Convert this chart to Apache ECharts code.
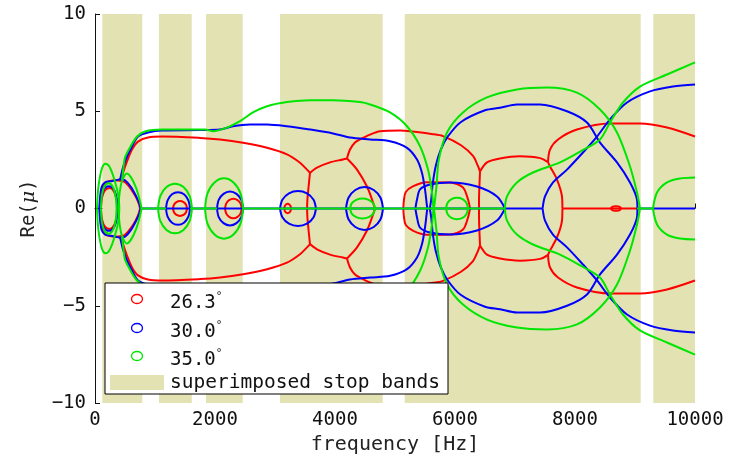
<!DOCTYPE html>
<html>
<head>
<meta charset="utf-8">
<script src="https://cdn.jsdelivr.net/npm/echarts@6/dist/echarts.min.js"></script>
<style>
  html, body { margin: 0; padding: 0; background: #fff; }
  #chart { width: 731px; height: 462px; }
</style>
</head>
<body>
<div id="chart"></div>
<script>
// Axis ticks
const xTicks = [0, 2000, 4000, 6000, 8000, 10000];
const yTicks = [-10, -5, 0, 5, 10];

// Stop bands common to all incidence angles [from Hz, to Hz]
const stopBands = [[122, 788], [1067, 1612], [1850, 2462], [3083, 4795], [5162, 9095], [9305, 10000]];

// Incidence angles (degrees)
const angles = ['26.3', '30.0', '35.0'];

// Root loci, upper half only: [frequency Hz, Re(mu)]; Re(mu) is symmetric about zero.
// --- 26.3 deg ---
const redLow = [[83,0],[95,0.5],[115,1.0],[160,1.3],[250,1.42],[350,1.45],[420,1.43],[500,1.35],[600,1.0],[680,0.6],[730,0.25],[750,0]];
const redLowInner = [[100,0],[120,0.6],[170,0.95],[250,1.05],[320,0.85],[360,0.45],[375,0]];
const redMain = [[420,1.43],[450,1.6],[470,1.85],[533,2.42],[617,3.03],[717,3.44],[883,3.65],[1117,3.70],[1750,3.63],[2083,3.55],[2467,3.38],[2867,3.12],[3200,2.78],[3417,2.35],[3533,2.0],[3583,1.83]];
const redDrop1 = [[3583,1.83],[3560,1.13],[3540,0.46],[3535,0]];
const redBridge1 = [[3583,1.83],[3700,2.1],[3917,2.37],[4133,2.52],[4200,2.57]];
const redDrop2 = [[4200,2.57],[4367,2.0],[4533,1.13],[4617,0.46],[4667,0]];
const redArch = [[4200,2.57],[4250,3.03],[4333,3.39],[4417,3.55],[4583,3.8],[4750,3.97],[5083,4.01],[5633,3.82],[5800,3.72],[6100,3.25],[6300,2.7],[6380,2.2],[6417,1.9]];
const redDrop3 = [[6417,1.9],[6405,1.0],[6400,0.4],[6400,0]];
const redBridge2 = [[6417,1.9],[6533,2.37],[6750,2.57],[7083,2.68],[7417,2.59],[7550,2.38]];
const redOuter = [[7550,2.38],[7583,3.03],[7717,3.55],[8033,4.06],[8583,4.37],[9083,4.37],[9533,4.16],[10000,3.70]];
const redDrop4 = [[7550,2.38],[7583,2.16],[7700,1.49],[7783,0.62],[7790,0]];
const redLoop1400 = [[1300,0],[1316,0.19],[1358,0.33],[1417,0.38],[1475,0.33],[1518,0.19],[1533,0]];
const redLoop2300 = [[2167,0],[2186,0.25],[2236,0.43],[2306,0.5],[2376,0.43],[2426,0.25],[2445,0]];
const redLoop3200 = [[3155,0],[3163,0.12],[3183,0.21],[3211,0.24],[3239,0.21],[3259,0.12],[3267,0]];
const redLoop5700 = [[5139,0],[5150,0.46],[5180,0.85],[5305,1.15],[5528,1.35],[5917,1.34],[6133,1.08],[6217,0.46],[6250,0]];
const redLoop8680 = [[8600,0],[8611,0.06],[8641,0.1],[8683,0.12],[8725,0.1],[8755,0.06],[8766,0]];
const redAxis = [[[7790,0],[9040,0]]];

// --- 30.0 deg ---
const blueLow = [[70,0],[85,0.6],[110,1.1],[170,1.35],[260,1.4],[350,1.45],[420,1.5],[500,1.45],[600,1.1],[690,0.6],[740,0.25],[760,0]];
const blueLowInner = [[90,0],[105,0.6],[150,1.0],[230,1.15],[310,1.0],[360,0.55],[380,0]];
const blueMain = [[420,1.5],[467,2.1],[533,2.67],[617,3.19],[717,3.70],[883,3.91],[1117,4.01],[1750,4.03],[2083,4.06],[2300,4.23],[2583,4.32],[2867,4.32],[3200,4.23],[3583,4.06],[3967,3.86],[4250,3.65],[4583,3.55],[4917,3.46],[5200,3.12],[5367,2.52],[5450,1.83],[5500,0.98],[5533,0.12],[5540,0]];
const blueRise = [[5580,0],[5605,0.5],[5630,1.3],[5680,2.2],[5760,3.0],[5880,3.7],[6100,4.45],[6500,5.05],[6750,5.18],[7033,5.35],[7417,5.35],[7867,5.0],[8200,4.42],[8417,3.39],[8700,2.37],[8917,1.34],[9033,0.46],[9040,0]];
const blueHigh = [[7460,0],[7500,0.62],[7633,1.34],[7867,2.0],[8133,2.88],[8367,3.70],[8583,4.58],[8867,5.45],[9250,6.02],[9633,6.27],[10000,6.37]];
const blueLoop1400 = [[1183,0],[1210,0.42],[1283,0.73],[1383,0.84],[1483,0.73],[1556,0.42],[1583,0]];
const blueLoop2250 = [[2033,0],[2062,0.44],[2142,0.75],[2250,0.87],[2358,0.75],[2438,0.44],[2467,0]];
const blueLoop3400 = [[3083,0],[3123,0.45],[3233,0.78],[3383,0.9],[3533,0.78],[3643,0.45],[3683,0]];
const blueLoop4500 = [[4183,0],[4225,0.55],[4338,0.95],[4492,1.1],[4646,0.95],[4759,0.55],[4800,0]];
const blueLoop6000 = [[5340,0],[5367,0.46],[5417,0.98],[5583,1.23],[5917,1.34],[6367,1.13],[6700,0.62],[6833,0]];
const blueAxis = [[[783,0],[7460,0]], [[9040,0],[10000,0]]];

// --- 35.0 deg ---
const greenLobe = [[33,0],[50,0.9],[80,1.6],[120,2.1],[170,2.3],[230,2.2],[290,1.8],[340,1.3],[380,0.8],[400,0.3],[405,0]];
const greenLowInner = [[100,0],[115,0.7],[160,1.15],[230,1.3],[300,1.1],[345,0.6],[360,0]];
const greenLowRight = [[390,0],[410,0.8],[450,1.4],[530,1.8],[600,1.6],[680,1.1],[740,0.5],[775,0]];
const greenMain = [[450,1.45],[470,2.0],[500,2.62],[583,3.14],[700,3.70],[833,3.96],[1117,4.06],[1833,4.06],[1967,3.97],[2200,4.16],[2417,4.49],[2633,4.94],[2867,5.26],[3200,5.47],[3583,5.57],[3967,5.57],[4417,5.47],[4583,5.35],[4917,4.94],[5200,4.23],[5417,3.20],[5550,2.0],[5617,0.82],[5640,0]];
const greenRise = [[5650,0],[5690,1.1],[5730,2.5],[5867,3.91],[6133,4.94],[6533,5.71],[7033,6.12],[7533,6.22],[8033,5.96],[8417,5.09],[8700,3.91],[8917,2.16],[9033,0.82],[9083,0]];
const greenHigh = [[6830,0],[6867,0.62],[7033,1.34],[7300,1.85],[7750,2.37],[8100,2.95],[8417,3.55],[8583,4.42],[8800,5.45],[9083,6.27],[9533,6.89],[10000,7.51]];
const greenTail = [[9300,0],[9367,0.82],[9533,1.34],[9750,1.54],[10000,1.59]];
const greenLoop1400 = [[1050,0],[1088,0.64],[1192,1.1],[1333,1.27],[1475,1.1],[1578,0.64],[1617,0]];
const greenLoop2150 = [[1833,0],[1875,0.78],[1992,1.34],[2150,1.55],[2308,1.34],[2425,0.78],[2467,0]];
const greenLoop4450 = [[4250,0],[4278,0.26],[4354,0.44],[4458,0.51],[4562,0.44],[4638,0.26],[4667,0]];
const greenLoop6030 = [[5850,0],[5875,0.28],[5942,0.48],[6033,0.55],[6125,0.48],[6192,0.28],[6217,0]];
const greenAxis = [[[783,0],[1183,0]], [[1583,0],[2033,0]], [[2467,0],[6830,0]], [[9033,0],[9300,0]]];

const colors = ['#ff0000', '#0000ff', '#00e600'];
const bandColor = '#e2e2b3';

const curveSets = [
  { color: colors[0], branches: [redLow, redLowInner, redMain, redDrop1, redBridge1, redDrop2, redArch, redDrop3, redBridge2, redOuter, redDrop4,
      redLoop1400, redLoop2300, redLoop3200, redLoop5700, redLoop8680], axis: redAxis },
  { color: colors[1], branches: [blueLow, blueLowInner, blueMain, blueRise, blueHigh,
      blueLoop1400, blueLoop2250, blueLoop3400, blueLoop4500, blueLoop6000], axis: blueAxis },
  { color: colors[2], branches: [greenLobe, greenLowInner, greenLowRight, greenMain, greenRise, greenHigh, greenTail,
      greenLoop1400, greenLoop2150, greenLoop4450, greenLoop6030], axis: greenAxis }
];

function mirror(pts) { return pts.map(p => [p[0], -p[1]]); }

const series = [{
  type: 'line', data: [], silent: true, z: 1,
  markArea: {
    silent: true,
    itemStyle: { color: bandColor, opacity: 1 },
    data: stopBands.map(b => [{ xAxis: b[0] }, { xAxis: b[1] }])
  }
}];

curveSets.forEach((set, i) => {
  const base = { type: 'line', showSymbol: false, silent: true, smooth: 0.3, z: 3 + i,
    lineStyle: { color: set.color, width: 2 }, itemStyle: { color: set.color } };
  set.axis.forEach(seg => series.push(Object.assign({}, base, { smooth: false, data: seg })));
  set.branches.forEach(b => {
    series.push(Object.assign({}, base, { data: b }));
    series.push(Object.assign({}, base, { data: mirror(b) }));
  });
});

const font = 'DejaVu Sans Mono';
const chart = echarts.init(document.getElementById('chart'), null, { renderer: 'canvas' });

// legend box drawn over the lower-left of the plot
const legendTop = 283, legendLeft = 105;
const rowY = [299, 328, 356];
const graphic = [
  { type: 'rect', z: 100, shape: { x: legendLeft, y: legendTop, width: 343, height: 111 },
    style: { fill: '#fff', stroke: '#000', lineWidth: 1 } }
];
angles.forEach((a, i) => {
  graphic.push({ type: 'ellipse', z: 101, shape: { cx: 137, cy: rowY[i], rx: 5.5, ry: 4.5 },
    style: { fill: 'none', stroke: colors[i], lineWidth: 1.3 } });
  graphic.push({ type: 'text', z: 101, x: 170, y: rowY[i] + 4,
    style: { text: a + '{d|°}', fill: '#111', font: '19px "' + font + '"', verticalAlign: 'middle',
      rich: { d: { fontSize: 11, fontFamily: font, padding: [0, 0, 14, 0], fill: '#111' } } } });
});
graphic.push({ type: 'rect', z: 101, shape: { x: 110, y: 375, width: 54, height: 15 }, style: { fill: bandColor } });
graphic.push({ type: 'text', z: 101, x: 170, y: 383,
  style: { text: 'superimposed stop bands', fill: '#111', font: '19.5px "' + font + '"', verticalAlign: 'middle' } });

chart.setOption({
  animation: false,
  backgroundColor: '#fff',
  grid: { left: 95, right: 36, top: 14, bottom: 59, containLabel: false },
  xAxis: {
    type: 'value', min: xTicks[0], max: xTicks[xTicks.length - 1], interval: 2000,
    name: 'frequency [Hz]', nameLocation: 'middle', nameGap: 26,
    nameTextStyle: { fontFamily: font, fontSize: 20, color: '#222' },
    axisLine: { lineStyle: { color: '#111', width: 1 } },
    axisTick: { inside: true, length: 5, lineStyle: { color: '#111' } },
    axisLabel: { fontFamily: font, fontSize: 19, color: '#111', margin: 8, formatter: v => String(v) },
    splitLine: { show: false }
  },
  yAxis: {
    type: 'value', min: yTicks[0], max: yTicks[yTicks.length - 1], interval: 5,
    name: 'Re({mu|μ})', nameLocation: 'middle', nameGap: 56,
    nameTextStyle: { fontFamily: font, fontSize: 19, color: '#222',
      rich: { mu: { fontFamily: 'DejaVu Serif', fontStyle: 'italic', fontSize: 19, color: '#222' } } },
    axisLine: { show: true, lineStyle: { color: '#111', width: 1 } },
    axisTick: { show: true, inside: true, length: 5, lineStyle: { color: '#111' } },
    axisLabel: { fontFamily: font, fontSize: 19, color: '#111', margin: 9,
      formatter: v => String(v).replace('-', '\u2212') },
    splitLine: { show: false }
  },
  graphic: graphic,
  series: series
});
</script>
</body>
</html>
